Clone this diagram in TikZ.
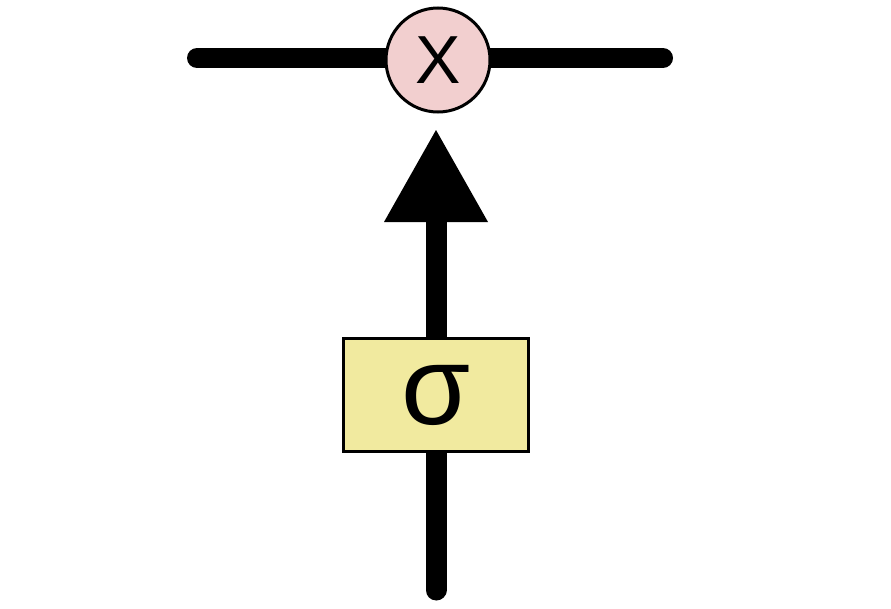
\documentclass[tikz,border=0pt]{standalone}
\usepackage{fontspec}
\setmainfont{Liberation Sans}
\usetikzlibrary{calc}
\definecolor{pinkfill}{HTML}{F2CFCF}
\definecolor{yellowfill}{HTML}{F1EA9F}
\begin{document}
\begin{tikzpicture}[x=1pt,y=1pt,
  wire/.style={line width=20pt,line cap=round},
  op/.style={circle,draw,line width=3pt,fill=pinkfill,minimum size=104pt,inner sep=0pt,font=\fontsize{68}{68}\selectfont},
  gate/.style={rectangle,draw,line width=3pt,fill=yellowfill,minimum width=185pt,minimum height=113pt,inner sep=0pt,font=\fontsize{112}{112}\selectfont}]
\useasboundingbox (0,0) rectangle (891,-608);
\coordinate (L) at (197,-58);
\coordinate (R) at (663,-58);
\coordinate (B) at (436,-590);
\coordinate (tip) at (436,-130);
\coordinate (base) at (436,-222);
\draw[wire] (L) -- (R);
\node[op] (mul) at (438,-60) {X};
\draw[line width=21pt,line cap=round] (B) -- (base);
\fill (tip) -- ($(base)+(52,0)$) -- ($(base)+(-52,0)$) -- cycle;
\node[gate] (sig) at (436,-395) {\raisebox{-4pt}{σ}};
\end{tikzpicture}
\end{document}
